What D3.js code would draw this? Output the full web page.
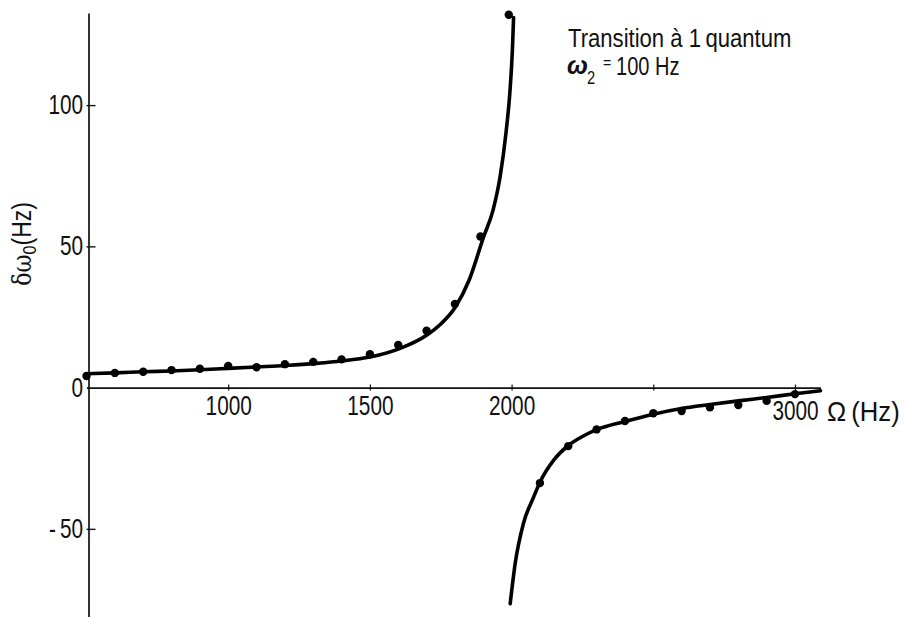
<!DOCTYPE html>
<html lang="fr">
  <head>
    <meta charset="UTF-8">
    <title>Transition à 1 quantum</title>
    <script src="https://d3js.org/d3.v7.min.js"></script>
    <style>
      * {
        margin: 0;
        padding: 0;
      }
      body {
        background: #fff;
      }
      body > svg {
        display: block;
      }
      text {
        font-family: "Liberation Sans", Arial, sans-serif;
        fill: #111;
      }
    </style>
  </head>
  <body>
    <script>
      // mesures (points)
      var pointsHaut = [
        [500, 4.1], [600, 5.2], [700, 5.6], [800, 6.2], [900, 6.7],
        [1000, 7.7], [1100, 7.2], [1200, 8.3], [1300, 9.1], [1400, 10.0],
        [1500, 11.8], [1600, 15.1], [1700, 20.1], [1800, 29.6], [1890, 53.5],
        [1990, 132]
      ];
      var pointsBas = [
        [2100, -33.8], [2200, -20.7], [2300, -14.8], [2400, -11.8], [2500, -9.1],
        [2600, -8.3], [2700, -7.0], [2800, -6.2], [2900, -4.7], [3000, -2.3]
      ];

      // courbe theorique
      var courbeHaut = [
        [500, 4.9], [600, 5.2], [700, 5.6], [800, 5.9], [900, 6.3],
        [1000, 6.8], [1100, 7.3], [1200, 7.8], [1300, 8.5], [1400, 9.4],
        [1500, 10.8], [1600, 13.6], [1700, 18.5], [1750, 22.5], [1800, 28.3],
        [1850, 38], [1900, 53], [1935, 63], [1960, 75], [1980, 90],
        [1995, 106], [2003, 120], [2007, 131]
      ];
      var courbeBas = [
        [1995, -76.5], [2013, -62], [2042, -48], [2078, -38.7], [2100, -33.5],
        [2150, -25.5], [2200, -20.5], [2250, -17.3], [2300, -14.9], [2400, -12.0],
        [2500, -9.4], [2600, -7.4], [2700, -6.0], [2800, -4.7], [2900, -3.5],
        [3000, -2.2], [3090, -1.1]
      ];

      var xTicks = [1000, 1500, 2000, 2500, 3000];
      var xLabels = ["1000", "1500", "2000", "", "3000"];
      var yTicks = [100, 50, 0, -50];
      var yLabels = ["100", "50", "0", "-\u200950"];

      var width = 904;
      var height = 617;
      var narrow = 0.77; // la police de la figure est etroite

      var svg = d3.select("body").append("svg")
        .attr("width", width)
        .attr("height", height);

      var x = d3.scaleLinear().domain([500, 3090]).range([86.5, 820.5]);
      var y = d3.scaleLinear().domain([-81.2, 132.6]).range([617, 13]);

      function label(px, py, size, sx, txt) {
        return svg.append("text")
          .attr("transform", "translate(" + px + "," + py + ") scale(" + sx + ",1)")
          .attr("font-size", size)
          .text(txt);
      }

      // axe vertical
      var yAxis = d3.axisLeft(y)
        .tickValues(yTicks)
        .tickFormat(function (d, i) { return yLabels[i]; })
        .tickSize(-7)
        .tickSizeOuter(0)
        .tickPadding(7);

      var gy = svg.append("g")
        .attr("transform", "translate(88.5,0)")
        .call(yAxis);
      gy.attr("font-family", null).attr("font-size", null);
      gy.select(".domain").attr("stroke", "#111").attr("stroke-width", 1.7);
      gy.selectAll(".tick line").attr("stroke", "#111").attr("stroke-width", 1.4)
        .attr("x1", -2);
      gy.selectAll(".tick").filter(function (d) { return d === 0; })
        .select("line").remove();
      gy.selectAll(".tick text")
        .attr("font-size", 27)
        .attr("fill", "#111")
        .attr("transform", "scale(" + narrow + ",1)");

      // axe horizontal
      var xAxis = d3.axisBottom(x)
        .tickValues(xTicks)
        .tickFormat(function (d, i) { return xLabels[i]; })
        .tickSize(3)
        .tickSizeOuter(0)
        .tickPadding(6);

      var gx = svg.append("g")
        .attr("transform", "translate(0," + y(0) + ")")
        .call(xAxis);
      gx.attr("font-family", null).attr("font-size", null);
      gx.select(".domain").attr("stroke", "#111").attr("stroke-width", 1.6);
      gx.selectAll(".tick line").attr("stroke", "#111").attr("stroke-width", 1.2)
        .attr("y1", -3);
      gx.selectAll(".tick text")
        .attr("font-size", 27)
        .attr("dy", function (d) { return d === 3000 ? "0.87em" : "0.69em"; })
        .attr("fill", "#111")
        .attr("transform", "scale(" + narrow + ",1)");

      // courbes
      var line = d3.line()
        .x(function (d) { return x(d[0]); })
        .y(function (d) { return y(d[1]); })
        .curve(d3.curveMonotoneX);

      svg.selectAll(".courbe")
        .data([courbeHaut, courbeBas])
        .enter().append("path")
        .attr("class", "courbe")
        .attr("d", line)
        .attr("fill", "none")
        .attr("stroke", "#000")
        .attr("stroke-width", 3.6)
        .attr("stroke-linecap", "round");

      svg.selectAll(".point")
        .data(pointsHaut.concat(pointsBas))
        .enter().append("circle")
        .attr("class", "point")
        .attr("cx", function (d) { return x(d[0]); })
        .attr("cy", function (d) { return y(d[1]); })
        .attr("r", 4.2)
        .attr("fill", "#000");

      // titre de l'axe x
      label(827, 421, 27, 0.95, "\u03A9\u2009(Hz)");

      // titre de l'axe y
      var ylab = svg.append("text")
        .attr("transform", "translate(31,244) rotate(-90) scale(0.85,1)")
        .attr("text-anchor", "middle")
        .attr("font-size", 27);
      ylab.append("tspan").attr("font-family", "DejaVu Serif").attr("font-size", 26).text("\u03B4\u03C9");
      ylab.append("tspan").attr("dy", 5).attr("font-size", 19).text("0");
      ylab.append("tspan").attr("dy", -5).text("(Hz)");

      // annotation
      label(568, 47, 26, 0.85, "Transition à 1\u2009quantum");

      svg.append("text")
        .attr("x", 567)
        .attr("y", 74)
        .attr("font-family", "DejaVu Serif")
        .attr("font-style", "italic")
        .attr("font-weight", "bold")
        .attr("font-size", 25)
        .text("\u03C9");
      label(587, 84, 19, narrow, "2");
      label(603, 68, 14, 1, "=");
      label(616, 75, 26, narrow, "100 Hz");
    </script>
  </body>
</html>
